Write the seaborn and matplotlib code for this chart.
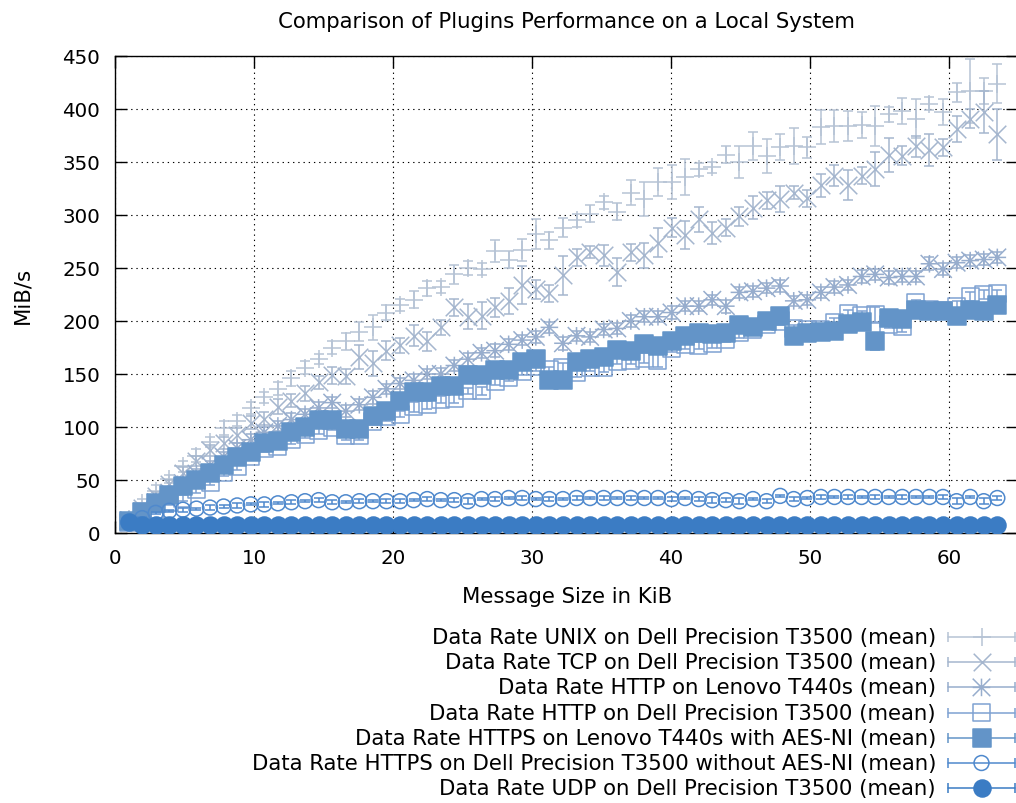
import numpy as np
import matplotlib
matplotlib.use("Agg")
import matplotlib.pyplot as plt
from matplotlib.path import Path
import seaborn as sns

# Message sizes: 1000 .. 65000 bytes, plotted in KiB
message_bytes = np.arange(1000, 65001, 1000)
message_kib = message_bytes / 1024

labels = [
    "Data Rate UNIX on Dell Precision T3500 (mean)",
    "Data Rate TCP on Dell Precision T3500 (mean)",
    "Data Rate HTTP on Lenovo T440s (mean)",
    "Data Rate HTTP on Dell Precision T3500 (mean)",
    "Data Rate HTTPS on Lenovo T440s with AES-NI (mean)",
    "Data Rate HTTPS on Dell Precision T3500 without AES-NI (mean)",
    "Data Rate UDP on Dell Precision T3500 (mean)",
]

unix_mean = [13, 28, 40, 51, 63, 73, 86, 99, 106, 118,
             128, 136, 146, 156, 164, 175, 181, 190, 194, 208,
             215, 220, 231, 232, 244, 250, 249, 266, 258, 267,
             282, 276, 288, 295, 301, 312, 303, 321, 315, 331,
             331, 336, 343, 345, 357, 350, 365, 356, 364, 365,
             364, 383, 384, 384, 385, 384, 395, 398, 391, 405,
             397, 416, 417, 417, 424]
unix_err = [3, 4, 5, 4, 5, 6, 5, 7, 5, 6,
            5, 6, 7, 6, 5, 6, 8, 9, 12, 7,
            6, 8, 7, 6, 9, 7, 6, 10, 8, 10,
            14, 8, 9, 6, 8, 6, 8, 12, 16, 13,
            16, 17, 6, 5, 8, 15, 13, 16, 12, 17,
            10, 16, 15, 14, 12, 19, 7, 12, 18, 6,
            12, 9, 30, 12, 18]

tcp_mean = [12, 24, 35, 46, 57, 68, 78, 85, 92, 104,
            108, 119, 125, 132, 142, 149, 148, 166, 160, 172,
            177, 186, 181, 194, 213, 204, 205, 213, 219, 234,
            230, 226, 243, 260, 265, 262, 246, 265, 262, 274,
            288, 281, 296, 283, 288, 299, 307, 314, 315, 321,
            316, 328, 337, 328, 337, 343, 357, 356, 365, 361,
            364, 381, 391, 397, 376]
tcp_err = [3, 3, 4, 4, 5, 5, 5, 6, 7, 6,
           6, 7, 6, 7, 6, 8, 7, 11, 12, 9,
           7, 10, 9, 7, 8, 12, 13, 9, 12, 18,
           9, 8, 18, 8, 6, 10, 13, 8, 12, 14,
           9, 13, 12, 10, 8, 9, 11, 8, 12, 6,
           8, 11, 10, 14, 8, 16, 16, 9, 10, 15,
           8, 12, 9, 20, 24]

http_lenovo_mean = [12, 20, 29, 38, 47, 56, 64, 72, 80, 88,
                    95, 101, 107, 112, 118, 123, 115, 121, 128, 136,
                    141, 144, 150, 150, 158, 164, 170, 172, 178, 182,
                    185, 194, 179, 186, 185, 192, 193, 200, 204, 204,
                    208, 214, 214, 220, 214, 227, 228, 231, 233, 219,
                    220, 227, 232, 234, 242, 244, 241, 242, 242, 254,
                    249, 255, 257, 258, 260]
http_lenovo_err = [2, 3, 3, 3, 4, 4, 4, 4, 5, 5,
                   5, 5, 6, 5, 6, 5, 6, 5, 6, 5,
                   5, 6, 5, 6, 5, 6, 5, 6, 5, 5,
                   6, 5, 6, 5, 5, 5, 5, 6, 5, 5,
                   6, 5, 5, 5, 6, 5, 5, 5, 6, 5,
                   5, 5, 6, 5, 6, 5, 6, 5, 5, 6,
                   6, 5, 5, 5, 5]

http_dell_mean = [10, 16, 22, 29, 33, 41, 48, 57, 63, 72,
                  80, 82, 88, 93, 97, 100, 92, 92, 105, 110,
                  112, 119, 121, 126, 127, 134, 134, 143, 147, 152,
                  157, 154, 156, 151, 156, 156, 162, 163, 165, 163,
                  174, 178, 177, 179, 183, 189, 192, 197, 200, 193,
                  192, 192, 199, 207, 205, 206, 197, 195, 217, 211,
                  210, 214, 223, 225, 226]
http_dell_err = [2, 2, 2, 3, 3, 3, 3, 3, 4, 3,
                 4, 3, 4, 3, 4, 3, 4, 4, 3, 4,
                 3, 5, 4, 3, 4, 3, 4, 3, 4, 3,
                 4, 3, 4, 4, 3, 4, 3, 4, 5, 6,
                 3, 4, 3, 4, 3, 5, 4, 3, 4, 3,
                 4, 3, 4, 3, 4, 7, 4, 5, 3, 4,
                 3, 5, 4, 4, 3]

https_lenovo_mean = [11, 20, 28, 36, 44, 50, 57, 64, 72, 76,
                     85, 87, 95, 100, 107, 107, 98, 98, 110, 115,
                     125, 133, 133, 139, 139, 149, 149, 154, 154, 161,
                     164, 144, 144, 161, 164, 166, 173, 172, 178, 176,
                     181, 186, 189, 188, 189, 196, 194, 200, 205, 186,
                     189, 190, 191, 197, 199, 181, 203, 202, 210, 209,
                     209, 205, 210, 209, 215]
https_lenovo_err = [1, 2, 2, 2, 2, 3, 2, 3, 2, 3,
                    2, 3, 2, 3, 2, 3, 2, 3, 2, 3,
                    2, 3, 2, 3, 2, 3, 2, 3, 2, 3,
                    2, 3, 2, 3, 2, 3, 2, 3, 2, 3,
                    2, 3, 2, 3, 2, 3, 2, 3, 2, 3,
                    2, 3, 2, 3, 2, 8, 2, 3, 2, 3,
                    2, 3, 2, 3, 2]

https_dell_mean = [10, 14, 19, 21, 22, 23, 24, 25, 26, 27,
                   27, 28, 29, 30, 31, 29, 29, 30, 30, 30,
                   30, 31, 32, 31, 31, 30, 32, 32, 33, 33,
                   32, 32, 32, 33, 33, 33, 33, 33, 33, 33,
                   32, 33, 32, 31, 31, 30, 32, 30, 35, 32,
                   33, 34, 34, 34, 34, 34, 34, 34, 34, 34,
                   34, 30, 34, 30, 33]
https_dell_err = [1, 1, 1, 1, 2, 1, 2, 1, 2, 1,
                  2, 1, 2, 1, 2, 2, 1, 2, 1, 2,
                  2, 1, 2, 1, 2, 3, 1, 2, 1, 2,
                  1, 2, 1, 2, 1, 2, 1, 2, 1, 1,
                  2, 1, 2, 3, 2, 3, 1, 2, 1, 2,
                  1, 2, 1, 2, 1, 2, 1, 2, 1, 1,
                  2, 3, 1, 3, 2]

udp_mean = [10.7, 7.3, 7.2, 7.5, 7.6, 7.5, 7.7, 7.6, 7.8, 7.7,
            7.8, 7.6, 7.7, 7.8, 7.7, 7.6, 7.8, 7.7, 7.8, 7.7,
            7.6, 7.8, 7.7, 7.8, 7.7, 7.6, 7.7, 7.8, 7.7, 7.8,
            7.7, 7.6, 7.8, 7.7, 7.7, 7.8, 7.6, 7.7, 7.8, 7.7,
            7.8, 7.7, 7.6, 7.7, 7.8, 7.7, 7.6, 7.7, 7.8, 7.7,
            7.7, 7.8, 7.6, 7.7, 7.8, 7.7, 7.7, 7.6, 7.8, 7.7,
            7.8, 7.7, 7.6, 7.7, 7.8]
udp_err = [0.8, 0.5, 0.5, 0.4, 0.5, 0.4, 0.5, 0.4, 0.5, 0.4,
           0.5, 0.4, 0.5, 0.4, 0.5, 0.4, 0.5, 0.4, 0.5, 0.4,
           0.5, 0.4, 0.5, 0.4, 0.5, 0.4, 0.5, 0.4, 0.5, 0.4,
           0.5, 0.4, 0.5, 0.4, 0.5, 0.4, 0.5, 0.4, 0.5, 0.4,
           0.5, 0.4, 0.5, 0.4, 0.5, 0.4, 0.5, 0.4, 0.5, 0.4,
           0.5, 0.4, 0.5, 0.4, 0.5, 0.4, 0.5, 0.4, 0.5, 0.4,
           0.5, 0.4, 0.5, 0.4, 0.5]

# asterisk marker: a plus overlaid with a cross
asterisk = Path(
    [(-1, 0), (1, 0), (0, -1), (0, 1), (-1, -1), (1, 1), (-1, 1), (1, -1)],
    [Path.MOVETO, Path.LINETO] * 4,
)

series = [
    dict(mean=unix_mean, err=unix_err, color="#b6c3d5", marker="+", size=160, style="line"),
    dict(mean=tcp_mean, err=tcp_err, color="#a5b6ce", marker="x", size=160, style="line"),
    dict(mean=http_lenovo_mean, err=http_lenovo_err, color="#97adcd", marker=asterisk, size=160, style="open"),
    dict(mean=http_dell_mean, err=http_dell_err, color="#7fa2d2", marker="s", size=150, style="open"),
    dict(mean=https_lenovo_mean, err=https_lenovo_err, color="#6394c8", marker="s", size=150, style="filled"),
    dict(mean=https_dell_mean, err=https_dell_err, color="#4f89cd", marker="o", size=115, style="open"),
    dict(mean=udp_mean, err=udp_err, color="#3b7cc4", marker="o", size=150, style="filled"),
]

sns.set_theme(style="ticks")
plt.rcParams["font.family"] = ["DejaVu Sans"]
plt.rcParams.update({"text.color": "black", "axes.labelcolor": "black",
                     "xtick.color": "black", "ytick.color": "black"})
FS = 15.3
TICK_FS = 14.3

W, H = 1016, 804
fig = plt.figure(figsize=(W / 100, H / 100), dpi=100)
ax = fig.add_axes([115 / W, (H - 534) / H, 903.5 / W, 477 / H])

LW = 1.1


def marker_kwargs(s):
    kw = dict(marker=s["marker"], s=s["size"], color=s["color"], linewidth=LW)
    if s["style"] == "open":
        kw.update(facecolor="none", edgecolor=s["color"])
    elif s["style"] == "filled":
        kw.update(edgecolor=s["color"])
    return kw


for i, s in enumerate(series):
    z = 3 + i
    ax.errorbar(message_kib, s["mean"], yerr=s["err"], fmt="none",
                ecolor=s["color"], elinewidth=LW, capsize=3.6, capthick=LW,
                zorder=z)
    sns.scatterplot(x=message_kib, y=s["mean"], ax=ax, legend=False,
                    zorder=z, **marker_kwargs(s))

ax.set_xlim(0, 65)
ax.set_ylim(0, 450)
ax.set_xticks(np.arange(0, 61, 10))
ax.set_yticks(np.arange(0, 451, 50))
ax.tick_params(direction="in", length=8.5, width=1, colors="black",
               labelsize=TICK_FS, pad=10.5, top=True, right=True)
for sp in ax.spines.values():
    sp.set_color("black")
    sp.set_linewidth(1)
ax.grid(True, color="black", linestyle=(0, (1.2, 3.5)), linewidth=0.8)
ax.set_axisbelow(False)

ax.set_title("Comparison of Plugins Performance on a Local System",
             fontsize=FS, pad=21)
ax.set_xlabel("Message Size in KiB", fontsize=FS)
ax.set_ylabel("MiB/s", fontsize=FS)
ax.xaxis.label.set_va("center")
ax.xaxis.set_label_coords(0.5, (534 - 597) / 477)
ax.yaxis.label.set_va("center")
ax.yaxis.set_label_coords((22 - 115) / 903.5, 0.5)

# key drawn below the plot in pixel coordinates
lax = fig.add_axes([0, 0, 1, 1])
lax.set_xlim(0, W)
lax.set_ylim(H, 0)
lax.set_axis_off()
x0, x1 = 948, 1015
xm = (x0 + x1) / 2
for i, (lab, s) in enumerate(zip(labels, series)):
    y = 638 + i * 25.2
    lax.text(936, y, lab, ha="right", va="center", fontsize=FS)
    lax.plot([x0, x1], [y, y], color=s["color"], lw=LW)
    lax.plot([x0, x1], [y, y], ls="none", marker="|", ms=7, mew=LW,
             color=s["color"])
    lax.scatter([xm], [y], zorder=3, **marker_kwargs(s))

fig.savefig("out.png", dpi=100)
